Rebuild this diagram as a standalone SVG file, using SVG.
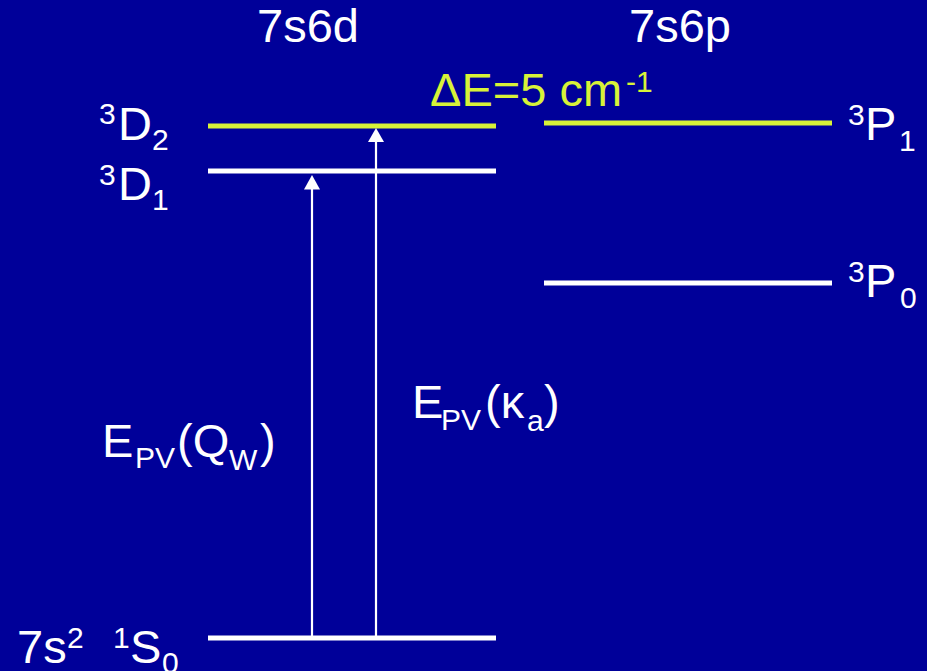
<svg xmlns="http://www.w3.org/2000/svg" width="927" height="671" viewBox="0 0 927 671">
<style>
.t{font-family:"Liberation Sans",Arial,sans-serif;fill:#ffffff;font-size:47px}
.y{fill:#d8f238}
.s{font-size:30px}
.lw{stroke:#ffffff;stroke-width:5;fill:none}
.ly{stroke:#d8f238;stroke-width:5;fill:none}
.ar{stroke:#ffffff;stroke-width:2.2;fill:none}
.ah{fill:#ffffff}
</style>
<rect x="0" y="0" width="927" height="671" fill="#000099"/>
<g id="header-7s6d"><text class="t" x="257" y="42">7s6d</text></g>
<g id="header-7s6p"><text class="t" x="629" y="42">7s6p</text></g>
<g id="delta-label"><text class="t y" x="430" y="106">ΔE=5 cm<tspan class="s" x="626" y="92">-1</tspan></text></g>
<g id="level-3D2">
<line class="ly" x1="208" y1="126" x2="496" y2="126"/>
<text class="t"><tspan class="s" x="99" y="124">3</tspan><tspan x="118" y="140">D</tspan><tspan class="s" x="152" y="150">2</tspan></text>
</g>
<g id="level-3D1">
<line class="lw" x1="208" y1="171" x2="496" y2="171"/>
<text class="t"><tspan class="s" x="99" y="185">3</tspan><tspan x="118" y="200">D</tspan><tspan class="s" x="152" y="210">1</tspan></text>
</g>
<g id="level-3P1">
<line class="ly" x1="544" y1="123" x2="832" y2="123"/>
<text class="t"><tspan class="s" x="848" y="125">3</tspan><tspan x="865" y="140">P</tspan><tspan class="s" x="899" y="151">1</tspan></text>
</g>
<g id="level-3P0">
<line class="lw" x1="544" y1="283" x2="832" y2="283"/>
<text class="t"><tspan class="s" x="848" y="282">3</tspan><tspan x="865" y="297">P</tspan><tspan class="s" x="900" y="308">0</tspan></text>
</g>
<g id="level-1S0">
<line class="lw" x1="208" y1="638" x2="496" y2="638"/>
<text class="t"><tspan x="17" y="663">7s</tspan><tspan class="s" x="67" y="648">2</tspan><tspan class="s" x="113" y="648">1</tspan><tspan x="130" y="663">S</tspan><tspan class="s" x="162" y="673">0</tspan></text>
</g>
<g id="label-QW"><text class="t"><tspan x="102" y="457">E</tspan><tspan class="s" x="135" y="468">PV</tspan><tspan x="177" y="457">(Q</tspan><tspan class="s" x="229" y="470">W</tspan><tspan x="260" y="457">)</tspan></text></g>
<g id="label-ka"><text class="t"><tspan x="412" y="418">E</tspan><tspan class="s" x="441" y="430">PV</tspan><tspan x="485" y="418">(κ</tspan><tspan class="s" x="527" y="431">a</tspan><tspan x="544" y="418">)</tspan></text></g>
<g id="connectors">
<line class="ar" x1="312" y1="636" x2="312" y2="188"/>
<polygon class="ah" points="312,175 304,189.5 320,189.5"/>
<line class="ar" x1="376" y1="636" x2="376" y2="141"/>
<polygon class="ah" points="376,128 368,142 384,142"/>
</g>
</svg>
